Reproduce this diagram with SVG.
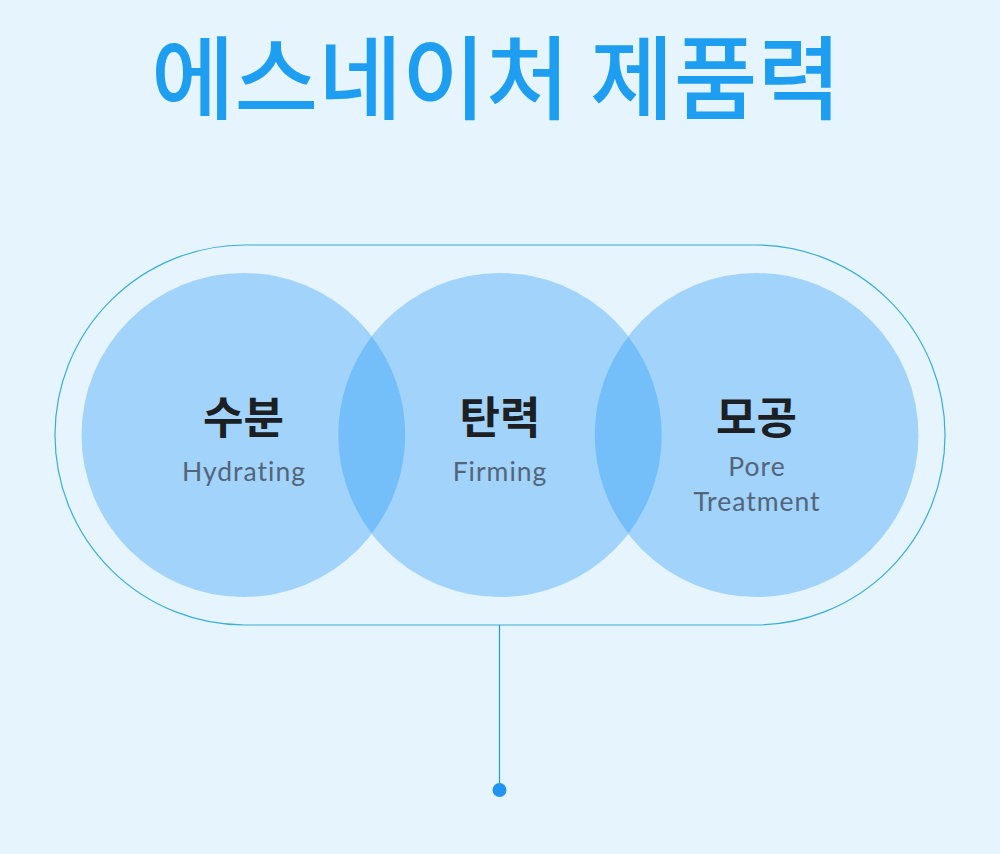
<svg xmlns="http://www.w3.org/2000/svg" width="1000" height="854" viewBox="0 0 1000 854">
<style>
.title{font-family:"Noto Sans CJK KR","Noto Sans",sans-serif;font-weight:500;font-size:91px;fill:#1e9ef0;text-anchor:middle}
.ko{font-family:"Noto Sans CJK KR","Noto Sans",sans-serif;font-weight:700;font-size:44px;fill:#1c1f24;text-anchor:middle}
.en{font-family:"Lato","Noto Sans",sans-serif;font-size:26.5px;fill:#52657a;text-anchor:middle;letter-spacing:1px}
.circle{fill:#a2d3fa}
.lens{fill:#74bffa}
</style>
<rect width="1000" height="854" fill="#e6f4fd"/>
<text class="title" x="496" y="112">에스네이처 제품력</text>
<g id="frame">
<rect x="55" y="245" width="890" height="380" rx="190" ry="190" fill="none" stroke="#3aaed8" stroke-width="1.2"/>
</g>
<g id="node-hydrating">
<circle class="circle" cx="243.5" cy="435" r="162"/>
</g>
<g id="node-firming">
<circle class="circle" cx="500" cy="435" r="162"/>
</g>
<g id="node-pore">
<circle class="circle" cx="756.5" cy="435" r="162"/>
</g>
<g id="overlaps">
<path class="lens" d="M371.75,336.4 A162,162 0 0 1 371.75,533.6 A162,162 0 0 1 371.75,336.4 Z"/>
<path class="lens" d="M628.25,336.4 A162,162 0 0 1 628.25,533.6 A162,162 0 0 1 628.25,336.4 Z"/>
</g>
<g id="labels">
<text class="ko" x="243.5" y="434">수분</text>
<text class="en" x="244" y="481">Hydrating</text>
<text class="ko" x="500" y="434">탄력</text>
<text class="en" x="500" y="481">Firming</text>
<text class="ko" x="756.5" y="434">모공</text>
<text class="en" x="757" y="476">Pore</text>
<text class="en" x="757" y="511">Treatment</text>
</g>
<g id="connectors">
<line x1="499.5" y1="625" x2="499.5" y2="786" stroke="#1a9fd0" stroke-width="1.2"/>
<circle cx="499.5" cy="790" r="7" fill="#2196f0"/>
</g>
</svg>
